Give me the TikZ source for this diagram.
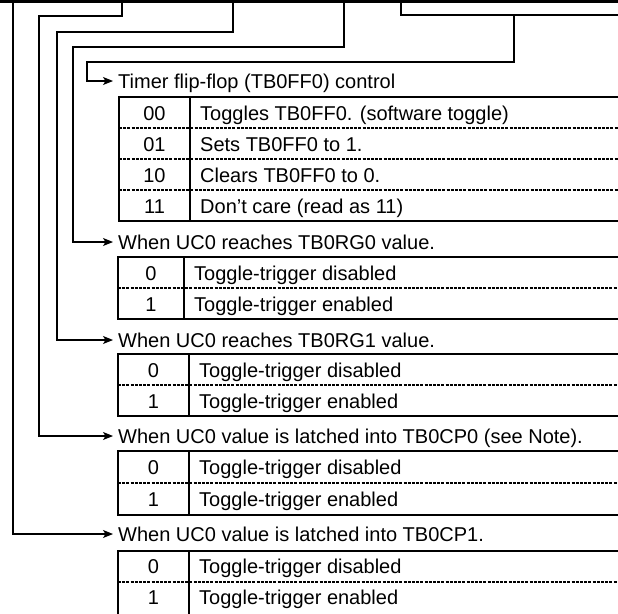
\documentclass[tikz,border=0pt]{standalone}
\usepackage{fontspec}
\setmainfont{Liberation Sans}
\usetikzlibrary{arrows.meta}
\begin{document}
\begin{tikzpicture}[x=1pt,y=-1pt,
  conn/.style={line width=1.1pt,-{Stealth[length=10pt,width=8pt,inset=2.5pt]}},
  frame/.style={line width=2.2pt,line join=miter},
  sep/.style={line width=1.2pt,dash pattern=on 3pt off 1.2pt},
  txt/.style={inner sep=0pt,font=\fontsize{20}{23}\selectfont},
  hdr/.style={txt,anchor=west,inner xsep=5pt,text height=14pt,text depth=0pt},
  val/.style={txt,anchor=base},
  desc/.style={txt,anchor=base west}]
\useasboundingbox (0,0) rectangle (618,613);
\clip (0,0) rectangle (618,613);

% top register edge
\draw[line width=3.2pt] (0,1.6) -- (618,1.6);
\draw[line width=2.2pt] (401,0) |- (619,15);

% headers
\node[hdr] (h1) at (113,81) {Timer flip-flop (TB0FF0) control};
\node[hdr] (h2) at (113,242) {When UC0 reaches TB0RG0 value.};
\node[hdr] (h3) at (113,340) {When UC0 reaches TB0RG1 value.};
\node[hdr] (h4) at (113,436) {When UC0 value is latched into TB0CP0 (see Note).};
\node[hdr] (h5) at (113,534) {When UC0 value is latched into TB0CP1.};

% connector start points and bends
\coordinate (s1) at (13,0);
\coordinate (s2) at (122,0);  \coordinate (b2) at (39,16);
\coordinate (s3) at (233,0);  \coordinate (b3) at (57,32);
\coordinate (s4) at (344,0);  \coordinate (b4) at (73,47);
\coordinate (s5) at (514,15); \coordinate (b5) at (87,62);

\draw[conn] (s5) |- (b5) |- (h1.west);
\draw[conn] (s4) |- (b4) |- (h2.west);
\draw[conn] (s3) |- (b3) |- (h3.west);
\draw[conn] (s2) |- (b2) |- (h4.west);
\draw[conn] (s1) |- (h5.west);

% table 1
\draw[frame] (619,97) -| (119,221) -- (619,221);
\draw[frame] (190,97) -- (190,221);
\foreach \y in {128,159,190} \draw[sep] (119,\y) -- (618,\y);
\node[val] (v10) at (154.5,120.5) {00};
\node[desc] (d10) at (200,120.5) {Toggles TB0FF0. (software toggle)};
\node[val] (v11) at (154.5,151.5) {01};
\node[desc] (d11) at (200,151.5) {Sets TB0FF0 to 1.};
\node[val] (v12) at (154.5,182.5) {10};
\node[desc] (d12) at (200,182.5) {Clears TB0FF0 to 0.};
\node[val] (v13) at (154.5,213.5) {11};
\node[desc] (d13) at (200,213.5) {Don’t care (read as 11)};

% table 2
\draw[frame] (619,257) -| (118,319) -- (619,319);
\draw[frame] (184,257) -- (184,319);
\draw[sep] (118,288) -- (618,288);
\node[val] (v20) at (151,280) {0};
\node[desc] (d20) at (194,280) {Toggle-trigger disabled};
\node[val] (v21) at (151,311) {1};
\node[desc] (d21) at (194,311) {Toggle-trigger enabled};

% table 3
\draw[frame] (619,354) -| (118,416) -- (619,416);
\draw[frame] (189,354) -- (189,416);
\draw[sep] (118,385) -- (618,385);
\node[val] (v30) at (153.5,377) {0};
\node[desc] (d30) at (199,377) {Toggle-trigger disabled};
\node[val] (v31) at (153.5,408) {1};
\node[desc] (d31) at (199,408) {Toggle-trigger enabled};

% table 4
\draw[frame] (619,451) -| (118,515) -- (619,515);
\draw[frame] (189,451) -- (189,515);
\draw[sep] (118,483) -- (618,483);
\node[val] (v40) at (153.5,474) {0};
\node[desc] (d40) at (199,474) {Toggle-trigger disabled};
\node[val] (v41) at (153.5,506) {1};
\node[desc] (d41) at (199,506) {Toggle-trigger enabled};

% table 5 (bottom edge lies below the visible area)
\draw[frame] (619,551) -| (118,616) -- (619,616);
\draw[frame] (189,551) -- (189,616);
\draw[sep] (118,582) -- (618,582);
\node[val] (v50) at (153.5,573.5) {0};
\node[desc] (d50) at (199,573.5) {Toggle-trigger disabled};
\node[val] (v51) at (153.5,604) {1};
\node[desc] (d51) at (199,604) {Toggle-trigger enabled};
\end{tikzpicture}
\end{document}
